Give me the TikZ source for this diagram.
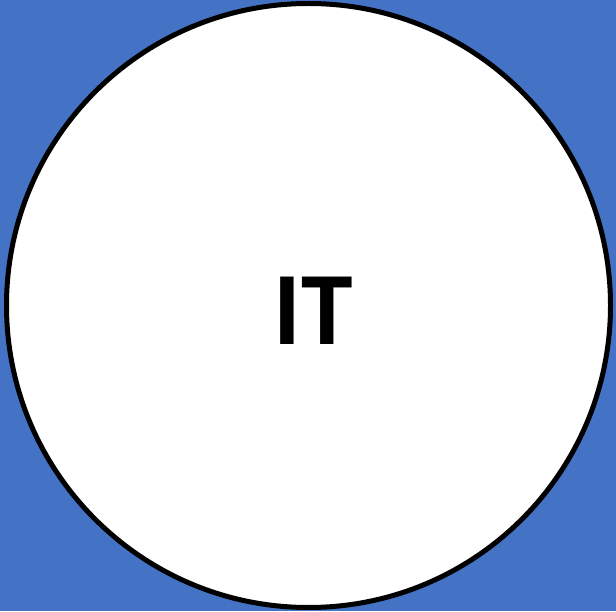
\documentclass[tikz,border=0pt]{standalone}
\usepackage{fontspec}
\setmainfont{Carlito}
\definecolor{bgblue}{HTML}{4472C4}
\begin{document}
\begin{tikzpicture}[x=1pt,y=1pt,
  ring/.style={circle,draw=black,line width=5pt,fill=white,minimum size=604pt,inner sep=0pt},
  label/.style={font=\fontsize{104}{110}\selectfont\bfseries,text=black}]
\fill[bgblue] (0,0) rectangle (616,611);
\useasboundingbox (0,0) rectangle (616,611);
\node[ring] (c) at (308.5,305.5) {};
\node[label] (t) at (313,300) {IT};
\end{tikzpicture}
\end{document}
